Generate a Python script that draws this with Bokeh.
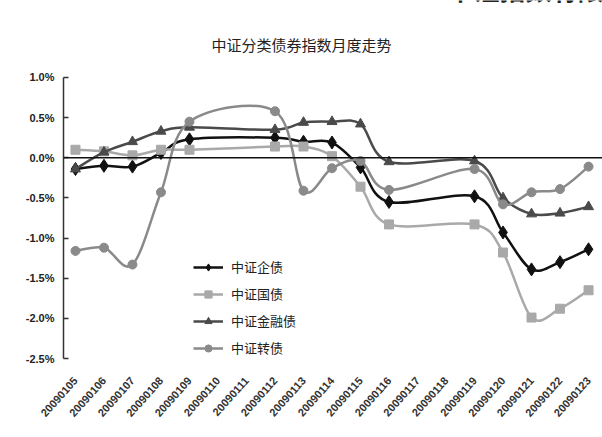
from bokeh.plotting import figure
from bokeh.models import Range1d, FixedTicker, PrintfTickFormatter, Span, Legend, LegendItem
from bokeh.embed import file_html
from bokeh.resources import INLINE
from bokeh.core.properties import value

# ---- data ----
dates = ["20090105", "20090106", "20090107", "20090108", "20090109", "20090110",
         "20090111", "20090112", "20090113", "20090114", "20090115", "20090116",
         "20090117", "20090118", "20090119", "20090120", "20090121", "20090122",
         "20090123"]
qizhai = [-0.14, -0.10, -0.11, 0.06, 0.23, None, None, 0.25, 0.20, 0.19, -0.12, -0.55,
          None, None, -0.48, -0.93, -1.39, -1.30, -1.14]
guozhai = [0.10, 0.08, 0.03, 0.10, 0.10, None, None, 0.14, 0.14, 0.02, -0.36, -0.83,
           None, None, -0.83, -1.18, -1.99, -1.88, -1.65]
jinrong = [-0.14, 0.07, 0.20, 0.33, 0.38, None, None, 0.35, 0.44, 0.45, 0.42, -0.05,
           None, None, -0.04, -0.50, -0.70, -0.69, -0.61]
zhuanzhai = [-1.16, -1.12, -1.33, -0.43, 0.45, None, None, 0.58, -0.41, -0.13, -0.04, -0.40,
             None, None, -0.14, -0.58, -0.43, -0.39, -0.11]
series_names = ["中证企债", "中证国债", "中证金融债", "中证转债"]
y_ticks = [1.0, 0.5, 0.0, -0.5, -1.0, -1.5, -2.0, -2.5]
title_text = "中证分类债券指数月度走势"
header_text = "中证指数有限公司"

CJK = "Noto Sans CJK SC"

# the frame reaches the top of the canvas so that the title texts share its scales
p = figure(width=602, height=437, output_backend="svg", toolbar_location=None, title=None,
           x_range=Range1d(-0.42, 18.49), y_range=Range1d(-2.5, 1.959),
           min_border_left=63, min_border_right=0, min_border_top=0, min_border_bottom=79)
p.outline_line_color = None
p.xgrid.visible = False
p.ygrid.visible = False
p.background_fill_color = "white"

# y axis
ya = p.yaxis[0]
ya.bounds = (-2.5, 1.0)
ya.ticker = FixedTicker(ticks=y_ticks)
ya.formatter = PrintfTickFormatter(format="%.1f%%")
ya.major_tick_in = 5
ya.major_tick_out = 0
ya.minor_tick_line_color = None
ya.axis_line_color = "#333333"
ya.axis_line_width = 1.5
ya.major_tick_line_color = "#333333"
ya.major_tick_line_width = 1.5
ya.major_label_text_font = "Liberation Sans"
ya.major_label_text_font_size = "11px"
ya.major_label_text_font_style = "bold"
ya.major_label_text_color = "#222222"
ya.major_label_standoff = 9

# x axis
xa = p.xaxis[0]
xa.ticker = FixedTicker(ticks=list(range(len(dates))))
xa.major_label_overrides = {i: d for i, d in enumerate(dates)}
xa.axis_line_color = None
xa.major_tick_line_color = None
xa.minor_tick_line_color = None
xa.major_label_orientation = 0.84
xa.major_label_text_font = "Liberation Sans"
xa.major_label_text_font_size = "11px"
xa.major_label_text_font_style = "bold"
xa.major_label_text_color = "#333333"
xa.major_label_standoff = 14

p.add_layout(Span(location=0, dimension="width", line_color="#111111", line_width=1.6))


def bezier_parts(vals):
    pts = [(i, v) for i, v in enumerate(vals) if v is not None]
    d = {k: [] for k in ["x0", "y0", "x1", "y1", "cx0", "cy0", "cx1", "cy1"]}
    for k in range(len(pts) - 1):
        p0 = pts[k - 1] if k > 0 else pts[k]
        p1 = pts[k]
        p2 = pts[k + 1]
        p3 = pts[k + 2] if k + 2 < len(pts) else pts[k + 1]
        d["x0"].append(p1[0]); d["y0"].append(p1[1])
        d["x1"].append(p2[0]); d["y1"].append(p2[1])
        d["cx0"].append(p1[0] + (p2[0] - p0[0]) / 6.0)
        d["cy0"].append(p1[1] + (p2[1] - p0[1]) / 6.0)
        d["cx1"].append(p2[0] - (p3[0] - p1[0]) / 6.0)
        d["cy1"].append(p2[1] - (p3[1] - p1[1]) / 6.0)
    return d


styles = [
    (qizhai, "#111111", "diamond", 13),
    (guozhai, "#a9a9a9", "square", 9),
    (jinrong, "#4a4a4a", "triangle", 10),
    (zhuanzhai, "#8a8a8a", "circle", 9),
]

items = []
for name, (vals, color, marker, size) in zip(series_names, styles):
    bz = bezier_parts(vals)
    br = p.bezier(source=bz, x0="x0", y0="y0", x1="x1", y1="y1", cx0="cx0", cy0="cy0",
                  cx1="cx1", cy1="cy1", line_color=color, line_width=2.5)
    xs = [i for i, v in enumerate(vals) if v is not None]
    ys = [v for v in vals if v is not None]
    sr = p.scatter(xs, ys, marker=marker, size=size, fill_color=color, line_color=color)
    items.append(LegendItem(label=name, renderers=[br, sr]))

legend = Legend(items=items, location=(130, 1), orientation="vertical",
                glyph_width=30, glyph_height=18, label_height=18, spacing=8,
                label_standoff=8, padding=0, margin=0,
                border_line_color=None, background_fill_alpha=0,
                label_text_font=CJK, label_text_font_size="13px",
                label_text_color="#222222")
p.add_layout(legend, "center")

# chart title and the cut-off page header above it
p.text(x=[7.93], y=[1.411], text=[title_text], text_align="center", text_baseline="middle",
       text_font=value(CJK), text_font_size="15px", text_color="#222222")
p.text(x=[13.05], y=[1.872], text=[header_text], text_align="left",
       text_baseline="bottom", text_font=value(CJK), text_font_size="26px",
       text_font_style="bold", text_color="#222222")

open("out.html", "w").write(file_html(p, INLINE))
